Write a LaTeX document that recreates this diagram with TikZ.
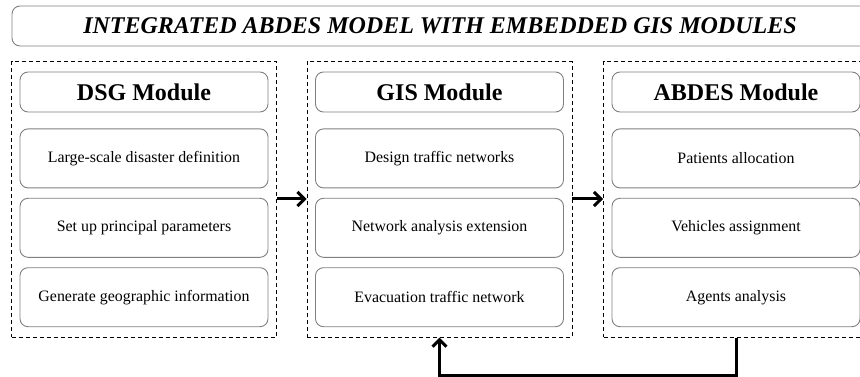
\documentclass[tikz,border=0pt]{standalone}
\usepackage{fontspec}
\setmainfont{Liberation Serif}
\usetikzlibrary{positioning, fit, arrows.meta}

\begin{document}
\begin{tikzpicture}[
    x=1pt, y=-1pt,
    % spacing between the task boxes of a module
    node distance=9.5pt,
    base/.style={rectangle, align=center, rounded corners=8pt, draw=black!50, line width=0.9pt},
    titlebox/.style={base, minimum width=856pt, minimum height=40pt, font=\fontsize{24}{28}\selectfont\bfseries\itshape},
    head/.style={base, minimum width=248pt, minimum height=40pt, font=\fontsize{24}{28}\selectfont\bfseries},
    task/.style={base, minimum width=248pt, minimum height=59pt, font=\fontsize{15.9}{19}\selectfont},
    module/.style={draw=black, line width=0.9pt, dash pattern=on 4pt off 3pt, inner xsep=8pt, inner ysep=10pt},
    arrow/.style={line width=3pt, -{Straight Barb[length=7pt, width=14pt]}}
]
\clip (0,0) rectangle (860,377);

%% ── Title ───────────────────────────────────────────────────
\node (title) [titlebox] at (440,26) {INTEGRATED ABDES MODEL WITH EMBEDDED GIS MODULES};

%% ── DSG Module ──────────────────────────────────────────────
\node (dsghead) [head] at (144,92) {DSG Module};
\node (dsg1) [task, below=16pt of dsghead] {Large-scale disaster definition};
\node (dsg2) [task, below=of dsg1] {Set up principal parameters};
\node (dsg3) [task, below=of dsg2] {Generate geographic information};
\node (dsg) [module, fit=(dsghead)(dsg3)] {};

%% ── GIS Module ──────────────────────────────────────────────
\node (gishead) [head] at (439.5,92) {GIS Module};
\node (gis1) [task, below=16pt of gishead] {Design traffic networks};
\node (gis2) [task, below=of gis1] {Network analysis extension};
\node (gis3) [task, below=of gis2] {Evacuation traffic network};
\node (gis) [module, fit=(gishead)(gis3)] {};

%% ── ABDES Module ────────────────────────────────────────────
\node (abdeshead) [head] at (736,92) {ABDES Module};
\node (abdes1) [task, below=16pt of abdeshead] {Patients allocation};
\node (abdes2) [task, below=of abdes1] {Vehicles assignment};
\node (abdes3) [task, below=of abdes2] {Agents analysis};
\node (abdes) [module, fit=(abdeshead)(abdes3)] {};

%% ── Main arrows ─────────────────────────────────────────────
\draw [arrow] (dsg.east |- 0,199) -- (gis.west |- 0,199);
\draw [arrow] (gis.east |- 0,199) -- (abdes.west |- 0,199);
\draw [arrow] (abdes.south) -- ++(0,38) -| (gis.south);

\end{tikzpicture}
\end{document}
